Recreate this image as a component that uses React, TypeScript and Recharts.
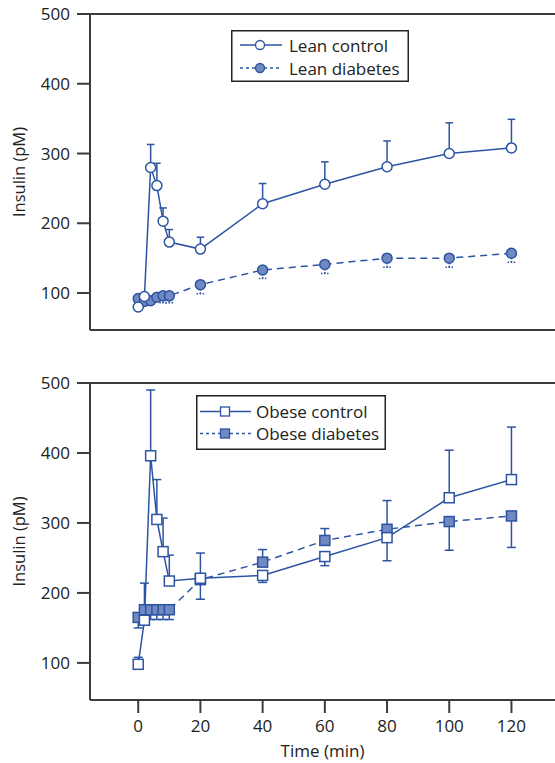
import { LineChart, Line, XAxis, YAxis, ErrorBar, ReferenceLine, Legend } from "recharts"

// time points (min)
const times = [0, 2, 4, 6, 8, 10, 20, 40, 60, 80, 100, 120]
const xTicks = [0, 20, 40, 60, 80, 100, 120]
const yTicks = [100, 200, 300, 400, 500]

// lean panel
const leanControl = [80, 95, 280, 254, 203, 173, 163, 228, 256, 281, 300, 308]
const leanControlUp = [0, 0, 33, 32, 19, 18, 17, 29, 32, 37, 44, 41]
const leanDiabetes = [92, 88, 89, 94, 96, 96, 112, 133, 141, 150, 150, 157]
const leanDiabetesDown = [3, 3, 3, 4, 10, 10, 13, 12, 13, 13, 13, 13]

// obese panel
const obeseControl = [98, 161, 396, 305, 259, 217, 221, 225, 252, 279, 336, 362]
const obeseControlDown = [0, 0, 0, 0, 0, 0, 30, 10, 13, 33, 0, 0]
const obeseControlUp = [10, 53, 94, 57, 48, 37, 36, 0, 0, 0, 68, 75]
const obeseDiabetes = [165, 176, 176, 176, 176, 176, 219, 244, 275, 291, 302, 310]
const obeseDiabetesDown = [15, 14, 14, 14, 14, 14, 0, 0, 0, 0, 41, 45]
const obeseDiabetesUp = [0, 0, 0, 0, 0, 0, 0, 18, 17, 41, 0, 0]

const BLUE = "#2d54a3"
const FILL = "#7089c1"
const INK = "#222"
const AXIS = "#3c3c3c"
const FONT = "'Open Sans', sans-serif"

const leanData = times.map((t, i) => ({
  t,
  ctrl: leanControl[i],
  ctrlErr: [0, leanControlUp[i]],
  diab: leanDiabetes[i],
  diabErr: [leanDiabetesDown[i], 0],
}))

const obeseData = times.map((t, i) => ({
  t,
  ctrl: obeseControl[i],
  ctrlErr: [obeseControlDown[i], obeseControlUp[i]],
  diab: obeseDiabetes[i],
  diabErr: [obeseDiabetesDown[i], obeseDiabetesUp[i]],
}))

const openSquare = (p: any) => (
  <rect key={`os${p.index}`} x={p.cx - 5} y={p.cy - 5} width={10} height={10}
    fill="#fff" stroke={BLUE} strokeWidth={1.5} />
)
const filledSquare = (p: any) => (
  <rect key={`fs${p.index}`} x={p.cx - 5} y={p.cy - 5} width={10} height={10}
    fill={FILL} stroke={BLUE} strokeWidth={1.5} />
)

function Marker({ kind, x, y }: { kind: string; x: number; y: number }) {
  if (kind === "oc") return <circle cx={x} cy={y} r={4.5} fill="#fff" stroke={BLUE} strokeWidth={1.3} />
  if (kind === "fc") return <circle cx={x} cy={y} r={4.5} fill={FILL} stroke={BLUE} strokeWidth={1.3} />
  if (kind === "os") return <rect x={x - 4.5} y={y - 4.5} width={9} height={9} fill="#fff" stroke={BLUE} strokeWidth={1.3} />
  return <rect x={x - 4.5} y={y - 4.5} width={9} height={9} fill={FILL} stroke={BLUE} strokeWidth={1.3} />
}

function LegendBox({ w, h, rows, lineX, markX, textX }: any) {
  return (
    <svg width={w} height={h} style={{ display: "block", overflow: "visible" }}>
      <rect x={0.75} y={0.75} width={w - 1.5} height={h - 1.5} fill="#fff" stroke={INK} strokeWidth={1.5} />
      {rows.map((r: any) => (
        <g key={r.label}>
          <line x1={lineX[0]} x2={lineX[1]} y1={r.y} y2={r.y} stroke={BLUE} strokeWidth={1.3}
            strokeDasharray={r.dash ? "3 3" : undefined} />
          <Marker kind={r.marker} x={markX} y={r.y} />
          <text x={textX} y={r.y} dominantBaseline="central" fontSize={17} fill={INK} fontFamily={FONT}>
            {r.label}
          </text>
        </g>
      ))}
    </svg>
  )
}

function Panel({ data, showX, legend, ctrlDot, diabDot, diabErrDash, capW }: any) {
  const height = showX ? 394 : 360
  return (
    <LineChart width={555} height={height} data={data} margin={{ top: 14, right: 0, bottom: 0, left: 0 }}>
      <XAxis
        type="number"
        dataKey="t"
        domain={[-15.5, 134]}
        ticks={xTicks}
        allowDataOverflow
        height={showX ? 63 : 30}
        tickSize={13}
        tickMargin={7}
        tick={showX ? { fill: INK, fontSize: 17, fontFamily: FONT } : false}
        axisLine={{ stroke: AXIS, strokeWidth: 2 }}
        tickLine={{ stroke: AXIS, strokeWidth: 2 }}
        label={showX ? { value: "Time (min)", position: "insideBottom", offset: 6, fill: INK, fontSize: 17, fontFamily: FONT } : undefined}
      />
      <YAxis
        type="number"
        domain={[47, 500]}
        ticks={yTicks}
        allowDataOverflow
        width={90}
        tickSize={13}
        tickMargin={7}
        tick={{ fill: INK, fontSize: 17, fontFamily: FONT }}
        axisLine={{ stroke: AXIS, strokeWidth: 2 }}
        tickLine={{ stroke: AXIS, strokeWidth: 2 }}
        label={{ value: "Insulin (pM)", angle: -90, position: "insideLeft", offset: 19, style: { textAnchor: "middle" }, fill: INK, fontSize: 16.5, fontFamily: FONT }}
      />
      <ReferenceLine y={500} stroke={AXIS} strokeWidth={2} />
      <Line
        dataKey="diab"
        stroke={BLUE}
        strokeWidth={1.5}
        strokeDasharray="7 5"
        dot={diabDot}
        activeDot={false}
        isAnimationActive={false}
      >
        <ErrorBar dataKey="diabErr" direction="y" width={capW} stroke={BLUE} strokeWidth={1.5}
          strokeDasharray={diabErrDash} />
      </Line>
      <Line
        dataKey="ctrl"
        stroke={BLUE}
        strokeWidth={1.5}
        dot={ctrlDot}
        activeDot={false}
        isAnimationActive={false}
      >
        <ErrorBar dataKey="ctrlErr" direction="y" width={capW} stroke={BLUE} strokeWidth={1.5} />
      </Line>
      <Legend
        layout="vertical"
        align="center"
        verticalAlign="middle"
        wrapperStyle={{ left: legend.left, top: legend.top, width: legend.w, height: legend.h }}
        content={() => <LegendBox {...legend} />}
      />
    </LineChart>
  )
}

export default function App() {
  return (
    <div style={{ position: "absolute", left: 0, top: 0, width: 555, height: 763, fontFamily: FONT, background: "#fff" }}>
      <div style={{ position: "absolute", left: 0, top: 0 }}>
        <Panel
          data={leanData}
          showX={false}
          capW={3.8}
          diabErrDash="1.5 1.5"
          ctrlDot={{ r: 5, fill: "#fff", stroke: BLUE, strokeWidth: 1.5, strokeDasharray: "none" }}
          diabDot={{ r: 5, fill: FILL, stroke: BLUE, strokeWidth: 1.5, strokeDasharray: "none" }}
          legend={{
            left: 231, top: 30, w: 178, h: 52,
            lineX: [9, 51], markX: 29, textX: 58,
            rows: [
              { label: "Lean control", y: 15, marker: "oc", dash: false },
              { label: "Lean diabetes", y: 38, marker: "fc", dash: true },
            ],
          }}
        />
      </div>
      <div style={{ position: "absolute", left: 0, top: 369 }}>
        <Panel
          data={obeseData}
          showX={true}
          capW={4.5}
          diabErrDash={undefined}
          ctrlDot={openSquare}
          diabDot={filledSquare}
          legend={{
            left: 196, top: 26, w: 190, h: 55,
            lineX: [4, 55], markX: 29, textX: 60,
            rows: [
              { label: "Obese control", y: 16.5, marker: "os", dash: false },
              { label: "Obese diabetes", y: 38.5, marker: "fs", dash: true },
            ],
          }}
        />
      </div>
    </div>
  )
}
